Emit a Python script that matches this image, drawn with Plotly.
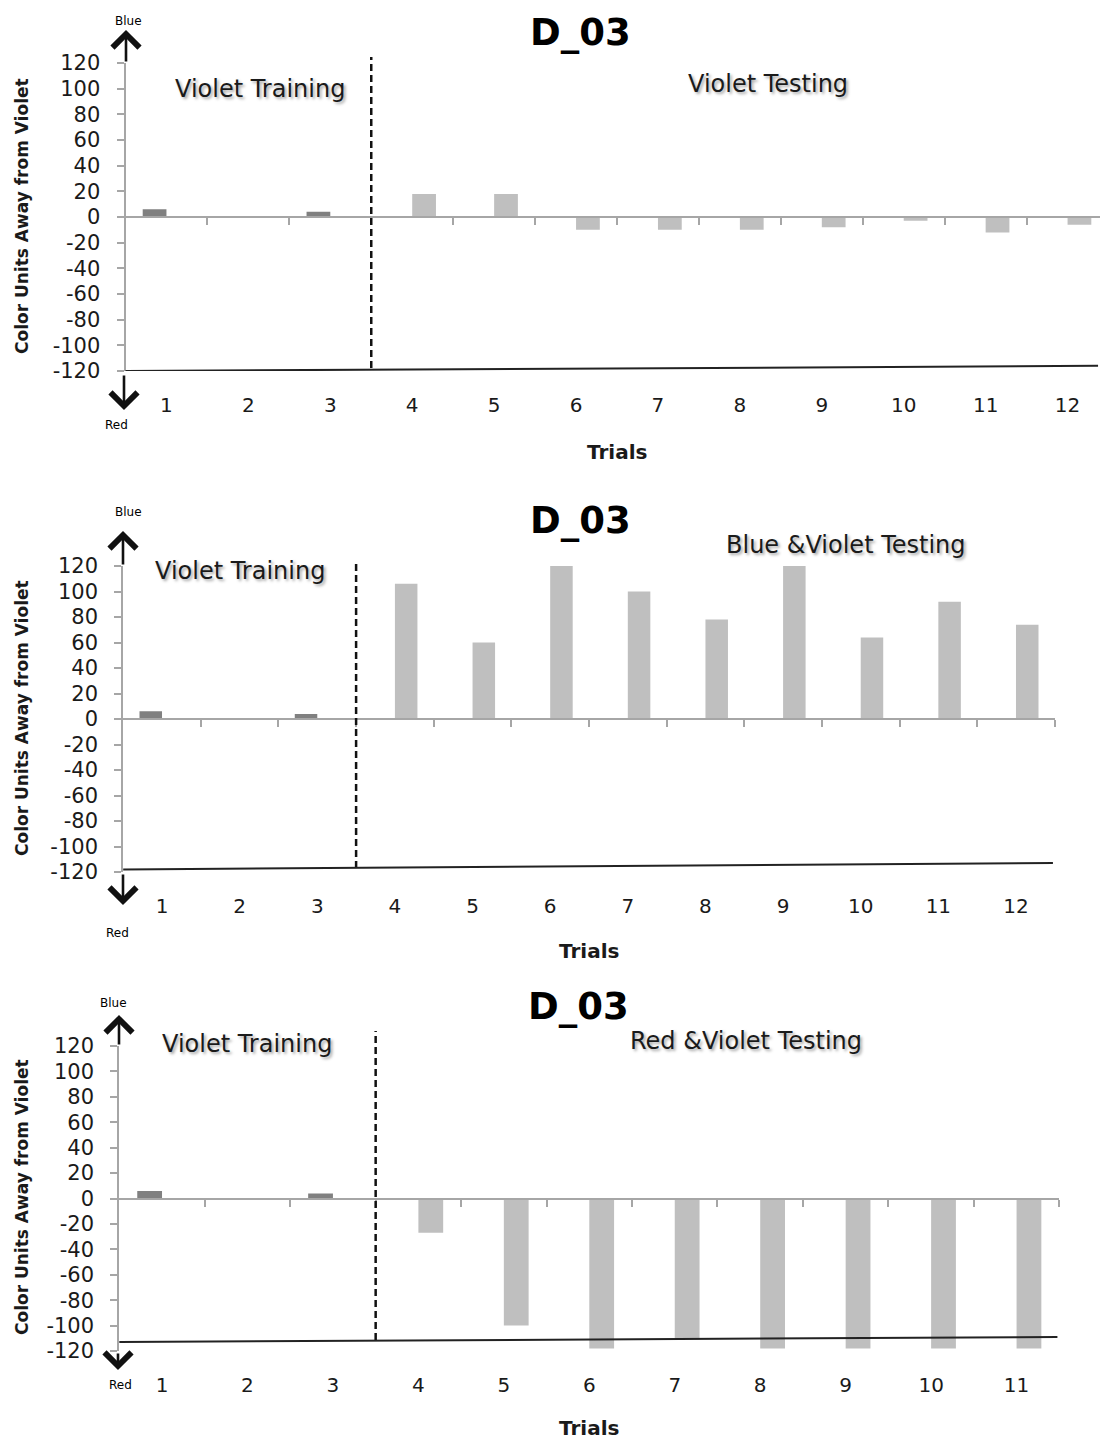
import plotly.graph_objects as go

W, H = 1100, 1442

# ---------------- data ----------------
trials_p1 = [1, 2, 3, 4, 5, 6, 7, 8, 9, 10, 11, 12]
trials_p2 = [1, 2, 3, 4, 5, 6, 7, 8, 9, 10, 11, 12]
trials_p3 = [1, 2, 3, 4, 5, 6, 7, 8, 9, 10, 11]

labels_p1 = ["1", "2", "3", "4", "5", "6", "7", "8", "9", "10", "11", "12"]
labels_p2 = ["1", "2", "3", "4", "5", "6", "7", "8", "9", "10", "11", "12"]
labels_p3 = ["1", "2", "3", "4", "5", "6", "7", "8", "9", "10", "11"]

training_p1 = [6, 0, 4, None, None, None, None, None, None, None, None, None]
testing_p1 = [None, None, None, 18, 18, -10, -10, -10, -8, -3, -12, -6]

training_p2 = [6, 0, 4, None, None, None, None, None, None, None, None, None]
testing_p2 = [None, None, None, 106, 60, 120, 100, 78, 120, 64, 92, 74]

training_p3 = [6, 0, 4, None, None, None, None, None, None, None, None]
testing_p3 = [None, None, None, -27, -100, -118, -111, -118, -118, -118, -118]

y_ticks = [120, 100, 80, 60, 40, 20, 0, -20, -40, -60, -80, -100, -120]
y_tick_text = ["120", "100", "80", "60", "40", "20", "0",
               "-20", "-40", "-60", "-80", "-100", "-120"]

panel_title = "D_03"
y_title = "Color Units Away from Violet"
x_title = "Trials"
training_text = "Violet Training"
testing_texts = ["Violet Testing", "Blue &Violet Testing", "Red &Violet Testing"]

# ---------------- styling helpers ----------------
FONT = "DejaVu Sans"
TXT = "#1a1a1a"
AXC = "#a6a6a6"
DARK_BAR = "#808080"
LIGHT_BAR = "#bfbfbf"


def px(x):
    return x / W


def py(y):
    return 1 - y / H


# panel geometry (pixel positions): left, right, top(120), bottom(-120)
panels = [
    dict(left=125.5, right=1100.0, top=63, bottom=371, xmax=12.396,
         trials=trials_p1, labels=labels_p1, training=training_p1, testing=testing_p1),
    dict(left=123.2, right=1054.8, top=566, bottom=872, xmax=12.5,
         trials=trials_p2, labels=labels_p2, training=training_p2, testing=testing_p2),
    dict(left=119.3, right=1059.3, top=1046, bottom=1351, xmax=11.5,
         trials=trials_p3, labels=labels_p3, training=training_p3, testing=testing_p3),
]
# vertical extent (pixels) of the dashed training/testing divider
divider_px = [(57, 368), (560, 868), (1031, 1340)]

fig = go.Figure()
layout = {}
shapes = []
annotations = []

for i, p in enumerate(panels):
    n = i + 1
    xa = "x" if n == 1 else f"x{n}"
    ya = "y" if n == 1 else f"y{n}"
    xz = f"x{n + 3}"
    xdom = [px(p["left"]), px(p["right"])]
    ydom = [py(p["bottom"]), py(p["top"])]
    xr = [0.5, p["xmax"]]

    fig.add_trace(go.Bar(x=p["trials"], y=p["training"], xaxis=xa, yaxis=ya,
                         marker=dict(color=DARK_BAR, line=dict(width=0)),
                         showlegend=False, name="Training"))
    fig.add_trace(go.Bar(x=p["trials"], y=p["testing"], xaxis=xa, yaxis=ya,
                         marker=dict(color=LIGHT_BAR, line=dict(width=0)),
                         showlegend=False, name="Testing"))
    # invisible trace to materialise the zero-level axis
    fig.add_trace(go.Scatter(x=[p["trials"][0]], y=[0], xaxis=xz, yaxis=ya,
                             mode="markers", marker=dict(opacity=0),
                             hoverinfo="skip", showlegend=False))

    layout[("xaxis" if n == 1 else f"xaxis{n}")] = dict(
        domain=xdom, range=xr, anchor=ya, showline=False, showgrid=False,
        zeroline=False, ticks="", tickvals=p["trials"], ticktext=p["labels"],
        tickfont=dict(family=FONT, size=20, color=TXT), ticklabelstandoff=20,
        automargin=False,
    )
    layout[("yaxis" if n == 1 else f"yaxis{n}")] = dict(
        domain=ydom, range=[-120, 120], anchor=xa, showline=True, linecolor=AXC,
        linewidth=2, showgrid=False, zeroline=False, ticks="outside", ticklen=7,
        tickcolor=AXC, tickwidth=1.5, tickvals=y_ticks, ticktext=y_tick_text,
        tickfont=dict(family=FONT, size=21, color=TXT), ticklabelstandoff=12,
        automargin=False,
    )
    zero_pos = (ydom[0] + ydom[1]) / 2
    layout[f"xaxis{n + 3}"] = dict(
        overlaying=xa, matches=xa, range=xr, anchor="free", position=zero_pos,
        showline=True, linecolor=AXC, linewidth=2, showgrid=False, zeroline=False,
        ticks="outside", ticklen=7, tickcolor=AXC, tickwidth=1.5,
        tickvals=[t + 0.5 for t in p["trials"]], showticklabels=False,
        automargin=False,
    )

    # dashed separator between training and testing
    d_top, d_bot = divider_px[i]
    shapes.append(dict(type="line", xref=xa, yref="paper", x0=3.5, x1=3.5,
                       y0=py(d_bot), y1=py(d_top),
                       line=dict(color="#111111", width=2.5, dash="7px,4px")))

    # hand-drawn bottom line
    yb0, yb1 = [(-120, -116), (-118, -113), (-113, -109)][i]
    shapes.append(dict(type="line", xref=f"{xa} domain", yref=ya, x0=0, x1=0.998,
                       y0=yb0, y1=yb1, layer="above",
                       line=dict(color="#222222", width=2)))

# ---------- annotations (texts & arrows) ----------
def text(x, y, s, size, bold=False, shadow=None, color=TXT):
    f = dict(family=FONT, size=size, color=color)
    if bold:
        f["weight"] = "bold"
    if shadow:
        f["shadow"] = shadow
    annotations.append(dict(xref="paper", yref="paper", x=px(x), y=py(y), text=s,
                            showarrow=False, font=f, xanchor="center", yanchor="middle"))


def arrow(x, y_head, y_tail):
    annotations.append(dict(xref="paper", yref="paper", x=px(x), y=py(y_head),
                            ax=0, ay=y_tail - y_head, axref="pixel", ayref="pixel",
                            text="", showarrow=True, arrowhead=4, arrowsize=2.0,
                            arrowwidth=2.6, arrowcolor="#111111", standoff=0))


SH = "2px 2px 3px rgba(0,0,0,0.35)"

title_pos = [(580, 33), (580, 520), (578, 1006)]
train_pos = [(260, 89), (240, 571), (247, 1044)]
test_pos = [(768, 84), (846, 545), (746, 1041)]
trials_pos = [(617, 452), (589, 951), (589, 1428)]
ytitle_pos = [(22, 216), (22, 718), (22, 1197)]
blue_pos = [(128, 21), (128, 512), (113, 1003)]
red_pos = [(116, 425), (117, 933), (120, 1385)]
up_arrows = [(126, 30, 63), (123, 531, 566), (119, 1015, 1046)]
down_arrows = [(124, 410, 374), (123, 905, 873), (118, 1370, 1352)]

for i in range(3):
    text(*title_pos[i], panel_title, 37, bold=True, color="#000000")
    text(*train_pos[i], training_text, 24, shadow=SH)
    text(*test_pos[i], testing_texts[i], 24, shadow=SH)
    text(*trials_pos[i], x_title, 20, bold=True)
    annotations.append(dict(xref="paper", yref="paper", x=px(ytitle_pos[i][0]),
                            y=py(ytitle_pos[i][1]), text=y_title, textangle=-90,
                            showarrow=False, xanchor="center", yanchor="middle",
                            font=dict(family=FONT, size=17, color=TXT, weight="bold")))
    text(*blue_pos[i], "Blue", 12, color="#000000")
    text(*red_pos[i], "Red", 12, color="#000000")
    arrow(*up_arrows[i])
    arrow(*down_arrows[i])

fig.update_layout(
    width=W, height=H,
    margin=dict(l=0, r=0, t=0, b=0, autoexpand=False),
    paper_bgcolor="white", plot_bgcolor="rgba(0,0,0,0)",
    barmode="group", bargap=0.42, bargroupgap=0,
    showlegend=False,
    shapes=shapes, annotations=annotations,
    **layout,
)

fig.write_html("out.html")
